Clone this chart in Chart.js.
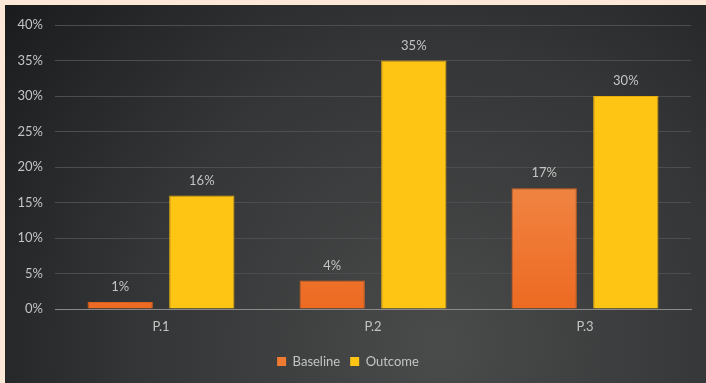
<!DOCTYPE html>
<html>
<head>
<meta charset="utf-8">
<script src="https://cdn.jsdelivr.net/npm/chart.js@4"></script>
<style>
  html, body { margin: 0; padding: 0; background: #fbe8d6; }
  #wrap { position: absolute; left: 5px; top: 5px; width: 701px; height: 378px; }
</style>
</head>
<body>
<div id="wrap"><canvas id="chart"></canvas></div>
<script>
// chart data
const categories = ['P.1', 'P.2', 'P.3'];
const baselineValues = [1, 4, 17];
const outcomeValues = [16, 35, 30];
const seriesNames = ['Baseline', 'Outcome'];

const FONT = "Lato, 'Open Sans', sans-serif";

// dark radial background behind everything
const backgroundPlugin = {
    id: 'darkBackground',
    beforeDraw(chart) {
        const ctx = chart.ctx;
        const w = chart.width, h = chart.height;
        const g = ctx.createRadialGradient(w * 0.62, h * 0.9, 10, w * 0.62, h * 0.9, w * 0.78);
        g.addColorStop(0, '#494a4a');
        g.addColorStop(0.55, '#333536');
        g.addColorStop(1, '#1a1c1d');
        ctx.save();
        ctx.fillStyle = g;
        ctx.fillRect(0, 0, w, h);
        ctx.restore();
    }
};

// value labels above bars
const valueLabelPlugin = {
    id: 'valueLabels',
    afterDatasetsDraw(chart) {
        const ctx = chart.ctx;
        ctx.save();
        ctx.font = '13px ' + FONT;
        ctx.fillStyle = '#c4c4c4';
        ctx.textAlign = 'center';
        ctx.textBaseline = 'middle';
        chart.data.datasets.forEach((ds, i) => {
            chart.getDatasetMeta(i).data.forEach((bar, j) => {
                ctx.fillText(ds.data[j] + '%', bar.x, bar.y - 15);
            });
        });
        ctx.restore();
    }
};

function baselineFill(context) {
    const chart = context.chart;
    const area = chart.chartArea;
    if (!area) return '#ef7a32';
    const g = chart.ctx.createLinearGradient(0, area.top, 0, area.bottom);
    g.addColorStop(0, '#f59a5e');
    g.addColorStop(0.6, '#f0823f');
    g.addColorStop(1, '#ed6a22');
    return g;
}

const ctx = document.getElementById('chart');
new Chart(ctx, {
    type: 'bar',
    data: {
        labels: categories,
        datasets: [{
            label: seriesNames[0],
            data: baselineValues,
            backgroundColor: baselineFill,
            borderColor: '#d9621f',
            borderWidth: 1,
            categoryPercentage: 0.77,
            barPercentage: 0.8
        }, {
            label: seriesNames[1],
            data: outcomeValues,
            backgroundColor: '#fec515',
            borderColor: '#e8ad0c',
            borderWidth: 1,
            categoryPercentage: 0.77,
            barPercentage: 0.8
        }]
    },
    options: {
        responsive: true,
        maintainAspectRatio: false,
        animation: false,
        layout: { padding: { top: 20, right: 15, bottom: 5, left: 0 } },
        plugins: {
            legend: {
                position: 'bottom',
                labels: {
                    color: '#c4c4c4',
                    boxWidth: 9,
                    boxHeight: 9,
                    padding: 10,
                    font: { family: FONT, size: 13 },
                    generateLabels(chart) {
                        return chart.data.datasets.map((ds, i) => ({
                            text: ds.label,
                            fillStyle: i === 0 ? '#ef7a32' : '#fec515',
                            strokeStyle: 'rgba(0,0,0,0)',
                            lineWidth: 0,
                            fontColor: '#c4c4c4',
                            datasetIndex: i
                        }));
                    }
                }
            },
            tooltip: { enabled: false }
        },
        scales: {
            x: {
                grid: { display: false, drawTicks: false },
                border: { color: '#8a8a8a', width: 1 },
                ticks: {
                    color: '#c4c4c4',
                    padding: 10,
                    font: { family: FONT, size: 13 }
                },
                afterFit(scale) { scale.height = 36; }
            },
            y: {
                min: 0,
                max: 40,
                grid: { color: '#4c4d4e', drawTicks: false },
                border: { display: false },
                ticks: {
                    stepSize: 5,
                    color: '#c4c4c4',
                    padding: 12,
                    font: { family: FONT, size: 13 },
                    callback: v => v + '%'
                },
                afterFit(scale) { scale.width = 50; }
            }
        }
    },
    plugins: [backgroundPlugin, valueLabelPlugin]
});
</script>
</body>
</html>
